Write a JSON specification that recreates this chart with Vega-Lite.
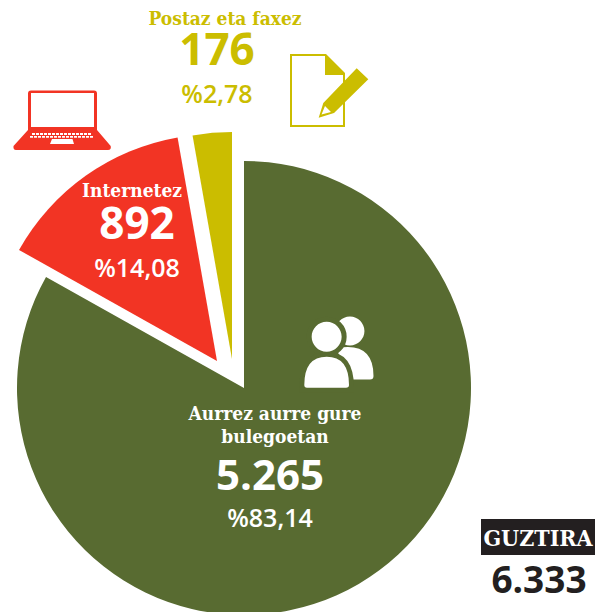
{
"$schema":"https://vega.github.io/schema/vega-lite/v6.json",
"width":600,"height":612,"padding":0,"autosize":{"type":"none"},"background":"white",
"config":{"view":{"stroke":null},"axis":{"disable":true},"text":{"baseline":"alphabetic","align":"center"},"point":{"filled":true,"opacity":1,"size":4,"strokeWidth":0}},
"data":{"values":[
{"category":"Aurrez aurre gure bulegoetan","label":"Aurrez aurre gure\nbulegoetan","value":5265,"display":"5.265","pct":"%83,14"},
{"category":"Internetez","label":"Internetez","value":892,"display":"892","pct":"%14,08"},
{"category":"Postaz eta faxez","label":"Postaz eta faxez","value":176,"display":"176","pct":"%2,78"}
]},
"transform":[{"stack":"value","sort":[{"field":"value","order":"descending"}],"as":["t0","t1"]}],
"encoding":{
"x":{"datum":0,"type":"quantitative","scale":{"domain":[0,600],"range":[0,600],"nice":false,"zero":false}},
"y":{"datum":0,"type":"quantitative","scale":{"domain":[0,612],"range":[0,612],"nice":false,"zero":false}}
},
"layer":[
{"transform":[{"filter":"datum.value==5265"}],"mark":{"type":"arc","outerRadius":227,"color":"#586B31"},
 "encoding":{"x":{"datum":244},"y":{"datum":388},"theta":{"field":"t0","type":"quantitative","scale":{"domain":[0,6333]}},"theta2":{"field":"t1"}}},
{"transform":[{"filter":"datum.value==892"}],"mark":{"type":"arc","outerRadius":227,"color":"#F23424"},
 "encoding":{"x":{"datum":217},"y":{"datum":361},"theta":{"field":"t0","type":"quantitative","scale":{"domain":[0,6333]}},"theta2":{"field":"t1"}}},
{"transform":[{"filter":"datum.value==176"}],"mark":{"type":"arc","outerRadius":227,"color":"#CBBD00"},
 "encoding":{"x":{"datum":232},"y":{"datum":359},"theta":{"field":"t0","type":"quantitative","scale":{"domain":[0,6333]}},"theta2":{"field":"t1"}}},

{"transform":[{"filter":"datum.value==5265"}],"mark":{"type":"text","font":"DejaVu Serif Condensed","fontWeight":"bold","fontSize":19,"color":"white","lineBreak":"\n","lineHeight":23},
 "encoding":{"x":{"datum":275},"y":{"datum":420},"text":{"field":"label"}}},
{"transform":[{"filter":"datum.value==5265"}],"mark":{"type":"text","font":"Open Sans","fontWeight":"bold","fontSize":42,"color":"white"},
 "encoding":{"x":{"datum":270},"y":{"datum":490},"text":{"field":"display"}}},
{"transform":[{"filter":"datum.value==5265"}],"mark":{"type":"text","font":"Open Sans","fontWeight":600,"fontSize":25,"color":"white"},
 "encoding":{"x":{"datum":270},"y":{"datum":527},"text":{"field":"pct"}}},

{"transform":[{"filter":"datum.value==892"}],"mark":{"type":"text","font":"DejaVu Serif Condensed","fontWeight":"bold","fontSize":19,"color":"white"},
 "encoding":{"x":{"datum":132},"y":{"datum":197},"text":{"field":"label"}}},
{"transform":[{"filter":"datum.value==892"}],"mark":{"type":"text","font":"Open Sans","fontWeight":"bold","fontSize":44,"color":"white"},
 "encoding":{"x":{"datum":137},"y":{"datum":239},"text":{"field":"display"}}},
{"transform":[{"filter":"datum.value==892"}],"mark":{"type":"text","font":"Open Sans","fontWeight":600,"fontSize":25,"color":"white"},
 "encoding":{"x":{"datum":137},"y":{"datum":277},"text":{"field":"pct"}}},

{"transform":[{"filter":"datum.value==176"}],"mark":{"type":"text","font":"DejaVu Serif Condensed","fontWeight":"bold","fontSize":19,"color":"#CBBD00"},
 "encoding":{"x":{"datum":225},"y":{"datum":25},"text":{"field":"label"}}},
{"transform":[{"filter":"datum.value==176"}],"mark":{"type":"text","font":"Open Sans","fontWeight":"bold","fontSize":44,"color":"#CBBD00"},
 "encoding":{"x":{"datum":217},"y":{"datum":65},"text":{"field":"display"}}},
{"transform":[{"filter":"datum.value==176"}],"mark":{"type":"text","font":"Open Sans","fontWeight":600,"fontSize":25,"color":"#CBBD00"},
 "encoding":{"x":{"datum":217},"y":{"datum":103},"text":{"field":"pct"}}},

{"data":{"values":[{"icon":"laptop"}]},"mark":{"type":"point","color":"#F23424","shape":"M31,90.5H94Q97,90.5 97,93.5V130L110.7,146Q111.5,150 108,150H16Q13,150 13.5,146L28,130V93.5Q28,90.5 31,90.5ZM31,93V127H94V93ZM52,139L50,144H74L72.5,139ZM32,133V135H35V133ZM36,133V135H39V133ZM40,133V135H43V133ZM44,133V135H47V133ZM48,133V135H51V133ZM52,133V135H55V133ZM56,133V135H59V133ZM60,133V135H63V133ZM64,133V135H67V133ZM68,133V135H71V133ZM72,133V135H75V133ZM76,133V135H79V133ZM80,133V135H83V133ZM84,133V135H87V133ZM88,133V135H91V133ZM30,136V137.8H33V136ZM34,136V137.8H37V136ZM38,136V137.8H41V136ZM42,136V137.8H45V136ZM46,136V137.8H49V136ZM50,136V137.8H53V136ZM54,136V137.8H57V136ZM58,136V137.8H61V136ZM62,136V137.8H65V136ZM66,136V137.8H69V136ZM70,136V137.8H73V136ZM74,136V137.8H77V136ZM78,136V137.8H81V136ZM82,136V137.8H85V136ZM86,136V137.8H89V136ZM90,136V137.8H93V136Z"}},
{"data":{"values":[{"icon":"document"}]},"mark":{"type":"point","color":"#CBBD00","shape":"M290,54H326L345,73V127H290ZM292,56V125H343V75H325V56Z"}},
{"data":{"values":[{"icon":"pencil"}]},"mark":{"type":"point","color":"#CBBD00","shape":"M356.7,68.3L368.3,79.3L334,113L318.7,117.7L323.3,103ZM325,106L321.5,114.5L331,112Z"}},
{"data":{"values":[{"icon":"person back"}]},"mark":{"type":"point","color":"white","shape":"M350,316.5A14.5,14.5 0 1 1 349.9,316.5ZM338,348Q373.5,342 373.5,376Q373.5,379.5 370,379.5H340Z"}},
{"data":{"values":[{"icon":"person front halo"}]},"mark":{"type":"point","color":"#586B31","stroke":"#586B31","strokeWidth":10,"shape":"M326.7,321.7A15,15 0 1 1 326.6,321.7ZM304.3,387.7Q304.3,356.7 326.7,356.7Q349,356.7 349,387.7Z"}},
{"data":{"values":[{"icon":"person front"}]},"mark":{"type":"point","color":"white","shape":"M326.7,321.7A15,15 0 1 1 326.6,321.7ZM304.3,385Q304.3,356.7 326.7,356.7Q349,356.7 349,385Q349,387.7 346,387.7H307Q304.3,387.7 304.3,385Z"}},

{"data":{"values":[{"label":"GUZTIRA","total":"6.333"}]},"layer":[
 {"mark":{"type":"rect","color":"#231F20"},"encoding":{"x":{"datum":481},"x2":{"datum":595},"y":{"datum":519},"y2":{"datum":555}}},
 {"mark":{"type":"text","font":"DejaVu Serif Condensed","fontWeight":"bold","fontSize":23,"color":"white"},"encoding":{"x":{"datum":538},"y":{"datum":546},"text":{"field":"label"}}},
 {"mark":{"type":"text","font":"Open Sans","fontWeight":"bold","fontSize":37,"color":"#231F20"},"encoding":{"x":{"datum":539},"y":{"datum":593},"text":{"field":"total"}}}
]}
]
}
